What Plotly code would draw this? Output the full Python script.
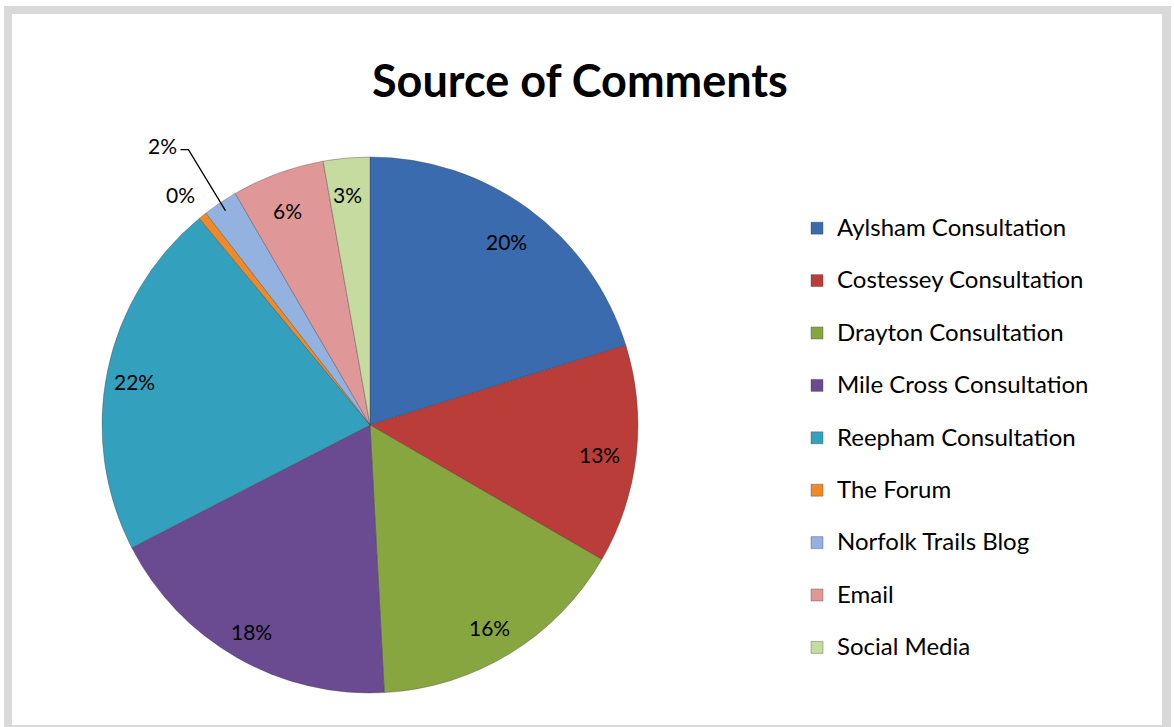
import math
import plotly.graph_objects as go

# Share of comments by source (percent)
sources = [
    "Aylsham Consultation",
    "Costessey Consultation",
    "Drayton Consultation",
    "Mile Cross Consultation",
    "Reepham Consultation",
    "The Forum",
    "Norfolk Trails Blog",
    "Email",
    "Social Media",
]
shares = [20.2, 13.2, 15.8, 18.3, 21.6, 0.5, 2.1, 5.6, 2.8]
colors = [
    "#3A6BAE", "#BA3D39", "#88A640", "#6A4B91", "#33A0BE",
    "#F08A28", "#94B2DF", "#E09797", "#C6DB9F",
]

W, H = 1174, 727
CX, CY, R = 370, 425, 268          # pie centre and radius in pixels
FONT = "Lato"


def px(x):
    return x / W


def py(y):
    return 1 - y / H


total = sum(shares)
fractions = [v / total for v in shares]
pct_text = [f"{round(f * 100)}%" for f in fractions]

fig = go.Figure()

# outer frame
fig.add_shape(type="rect", xref="paper", yref="paper", x0=px(4), x1=px(1171),
              y0=py(740), y1=py(6), fillcolor="#D9D9D9", line_width=0, layer="below")
fig.add_shape(type="rect", xref="paper", yref="paper", x0=px(12), x1=px(1162),
              y0=py(725), y1=py(14), fillcolor="white", line_width=0, layer="below")

legend_labels = [
    f"<span style='font-size:24px;baseline-shift:7px'>{s}</span>" for s in sources
]

fig.add_trace(go.Pie(
    labels=legend_labels,
    values=shares,
    sort=False,
    direction="clockwise",
    rotation=0,
    textinfo="none",
    hoverinfo="label+percent",
    marker=dict(colors=colors, line=dict(color="rgba(60,60,60,0.35)", width=1)),
    domain=dict(x=[px(CX - R), px(CX + R)], y=[py(CY + R), py(CY - R)]),
))

# percentage labels placed along each slice's mid angle
annotations = []
start = 0.0
mid_angles = []
for f in fractions:
    mid_angles.append(start + 180 * f)
    start += 360 * f


def polar(angle_deg, rf):
    a = math.radians(angle_deg)
    return CX + rf * R * math.sin(a), CY - rf * R * math.cos(a)


label_font = dict(family=FONT, size=21, color="black")
label_r = [0.87, 0.87, 0.87, 0.87, 0.89, 1.12, None, 0.87, 0.88]
for i, txt in enumerate(pct_text):
    if label_r[i] is None:
        continue
    x, y = polar(mid_angles[i], label_r[i])
    annotations.append(dict(x=px(x - 2), y=py(y + 4), xref="paper", yref="paper",
                            text=txt, showarrow=False, xanchor="center",
                            yanchor="middle", font=label_font))

# Norfolk Trails Blog label with leader line
ax_, ay_ = polar(mid_angles[6], 0.965)
ex, ey = ax_ - 37, ay_ - 61
fig.add_shape(type="path", xref="paper", yref="paper",
              path=f"M {px(ex - 8)},{py(ey)} L {px(ex)},{py(ey)} L {px(ax_)},{py(ay_)}",
              line=dict(color="black", width=1.3))
annotations.append(dict(x=px(ex - 9), y=py(ey - 4), xref="paper", yref="paper",
                        text=pct_text[6], showarrow=False, xanchor="right",
                        yanchor="middle", font=label_font))

annotations.append(dict(x=px(580), y=py(80), xref="paper", yref="paper",
                        text="<b>Source of Comments</b>", showarrow=False,
                        xanchor="center", yanchor="middle",
                        font=dict(family=FONT, size=45, color="black")))

fig.update_layout(
    width=W, height=H,
    margin=dict(l=0, r=0, t=0, b=0),
    paper_bgcolor="white",
    plot_bgcolor="white",
    annotations=annotations,
    showlegend=True,
    legend=dict(
        x=px(797), y=py(197), xanchor="left", yanchor="top",
        font=dict(family=FONT, size=38, color="black"),
        bgcolor="rgba(0,0,0,0)",
    ),
)

fig.write_html("out.html")
